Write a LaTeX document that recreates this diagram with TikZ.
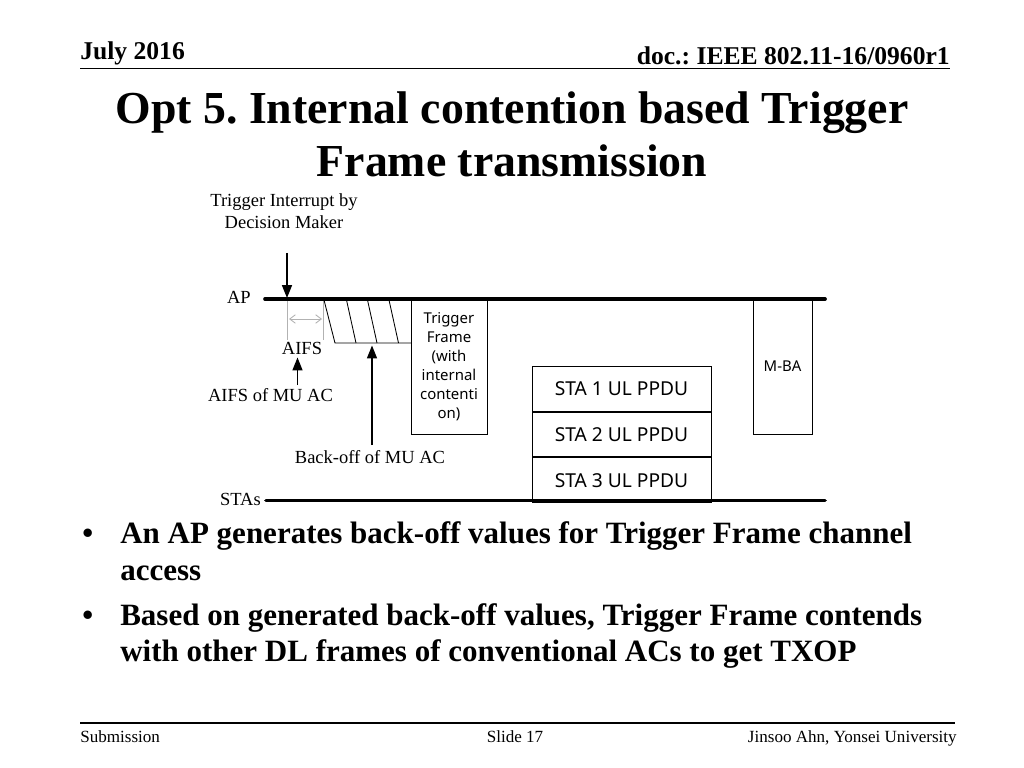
\documentclass[tikz,border=0pt]{standalone}
\usepackage{fontspec}
\setmainfont{Liberation Serif}
\newfontfamily\boxfont{Noto Sans}
\usetikzlibrary{arrows.meta,positioning}
\frenchspacing

\newcommand\pxu{0.703125pt}
\tikzstyle{label} = [inner sep=0pt, anchor=base, font=\fontsize{13}{15}\selectfont]
\tikzstyle{frame} = [draw, line width=0.7pt, inner sep=0pt, align=center]
\tikzstyle{medium} = [line width=2.6pt, line cap=round]
\tikzstyle{pointer} = [line width=0.9pt, -{Triangle[width=7pt,length=9pt]}]
\tikzstyle{bullet} = [inner sep=0pt, anchor=base west, font=\bfseries\fontsize{21.8}{26}\selectfont]

\begin{document}
\begin{tikzpicture}[x=\pxu, y=-\pxu]
      \useasboundingbox (0,0) rectangle (1024,768);
      % header and footer
      \node[inner sep=0pt, anchor=base west, font=\bfseries\fontsize{18}{20}\selectfont] (date) at (80,60) {July 2016};
      \node[inner sep=0pt, anchor=base east, font=\bfseries\fontsize{18}{20}\selectfont] (doc) at (950,65) {doc.: IEEE 802.11-16/0960r1};
      \draw[line width=1.1pt] (80,68.5) -- (950,68.5);
      \draw[line width=1.1pt] (80,723) -- (955,723);
      \node[inner sep=0pt, anchor=base west, font=\fontsize{12}{14}\selectfont] (sub) at (80,742) {Submission};
      \node[inner sep=0pt, anchor=base, font=\fontsize{12}{14}\selectfont] (slide) at (515,742) {Slide 17};
      \node[inner sep=0pt, anchor=base east, font=\fontsize{12}{14}\selectfont] (auth) at (957,742) {Jinsoo Ahn, Yonsei University};
      % title
      \node[inner sep=0pt, anchor=base, font=\bfseries\fontsize{32.2}{37}\selectfont] (t1) at (512,123.5) {Opt 5. Internal contention based Trigger};
      \node[inner sep=0pt, anchor=base, font=\bfseries\fontsize{32.2}{37}\selectfont] (t2) at (512,176.5) {Frame transmission};

      % time lines
      \node[label, anchor=base east] (ap) at (251,304) {AP};
      \node[label, anchor=base east] (stas) at (261,505) {STAs};
      \coordinate (apL) at (265,299);
      \coordinate (apR) at (825,299);
      \coordinate (stL) at (266,500.5);
      \coordinate (stR) at (825,500.5);
      \draw[medium] (apL) -- (apR);
      \draw[medium] (stL) -- (stR);

      % trigger interrupt
      \node[label] (intr1) at (284,206.5) {Trigger Interrupt by};
      \node[label] (intr2) at (284,229) {Decision Maker};
      \coordinate (intrA) at (287,253);
      \coordinate (intrB) at (287,298);
      \draw[pointer] (intrA) -- (intrB);

      % AIFS
      \draw[gray!60, line width=0.7pt] (287.5,301) -- (287.5,340);
      \draw[gray!60, line width=0.7pt] (323.5,301) -- (323.5,340);
      \coordinate (aifsL) at (289,319);
      \coordinate (aifsR) at (322,319);
      \draw[gray!60, line width=0.6pt, {Straight Barb[length=4pt,width=6pt]}-{Straight Barb[length=4pt,width=6pt]}] (aifsL) -- (aifsR);
      \node[label] (aifs) at (302,354) {AIFS};
      \node[label] (aifsmu) at (270.5,401.5) {AIFS of MU AC};
      \coordinate (aifsA) at (297.5,385);
      \coordinate (aifsB) at (297.5,357.5);
      \draw[pointer] (aifsA) -- (aifsB);

      % back-off slots
      \draw[line width=0.6pt] (324,300) -- (335,343) -- (411,343);
      \draw[line width=0.6pt] (346.5,300) -- (356,343);
      \draw[line width=0.6pt] (367.5,300) -- (377,343);
      \draw[line width=0.6pt] (389,300) -- (398.5,343);
      \node[label] (boff) at (370,463.3) {Back-off of MU AC};
      \coordinate (boffA) at (372,445);
      \coordinate (boffB) at (372,345.5);
      \draw[pointer] (boffA) -- (boffB);

      % frames
      \node[frame, minimum width=76*\pxu, minimum height=135*\pxu,
            font=\boxfont\fontsize{10.5}{13.4}\selectfont] (trig) at (449,366.5)
            {Trigger\\Frame\\(with\\internal\\contenti\\on)};
      \node[frame, minimum width=179*\pxu, minimum height=45*\pxu,
            font=\boxfont\fontsize{13.5}{15}\selectfont] (sta1) at (621.5,389) {STA 1 UL PPDU};
      \node[frame, minimum width=179*\pxu, minimum height=44.5*\pxu,
            font=\boxfont\fontsize{13.5}{15}\selectfont, below=0pt of sta1] (sta2) {STA 2 UL PPDU};
      \node[frame, minimum width=179*\pxu, minimum height=44.5*\pxu,
            font=\boxfont\fontsize{13.5}{15}\selectfont, below=0pt of sta2] (sta3) {STA 3 UL PPDU};
      \node[frame, minimum width=59*\pxu, minimum height=135*\pxu,
            font=\boxfont\fontsize{10.5}{13}\selectfont] (mba) at (782.5,366.5) {M-BA};

      % bullets
      \node[bullet] (b1) at (82,543.3) {•};
      \node[bullet] (l1) at (120,543.3) {An AP generates back-off values for Trigger Frame channel};
      \node[bullet] (l2) at (120,580) {access};
      \node[bullet] (b2) at (82,625) {•};
      \node[bullet] (l3) at (120,625) {Based on generated back-off values, Trigger Frame contends};
      \node[bullet] (l4) at (120,661.7) {with other DL frames of conventional ACs to get TXOP};
    \end{tikzpicture}
\end{document}
